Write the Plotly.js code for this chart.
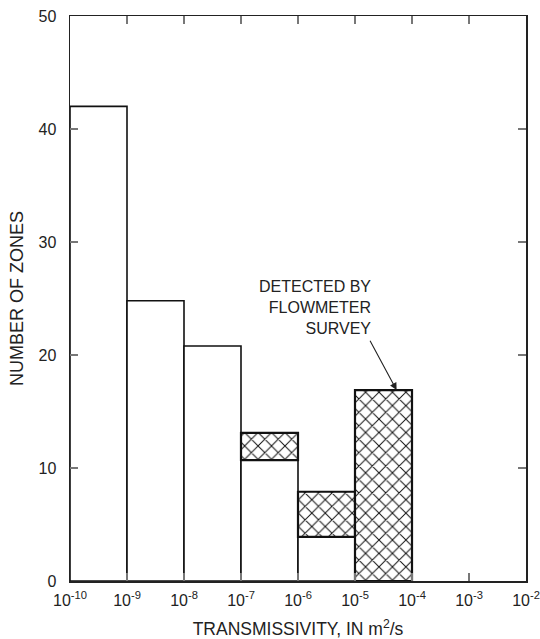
<!DOCTYPE html>
<html>
<head>
<meta charset="utf-8">
<script src="https://cdn.plot.ly/plotly-3.0.1.min.js"></script>
<style>html,body{margin:0;padding:0;background:#fff;}#chart{width:540px;height:639px;}</style>
</head>
<body>
<div id="chart"></div>
<script>
// Bin lower edges as powers of ten (transmissivity, m2/s)
const binLowExp = [-10, -9, -8, -7, -6, -5];
// Zones not detected by flowmeter (white part of bars)
const plainCounts = [42, 24.8, 20.8, 10.7, 3.9, 0];
// Zones detected by flowmeter survey (crosshatched part, stacked on top)
const flowmeterCounts = [0, 0, 0, 2.4, 4.0, 16.9];
const tickExps = [-10, -9, -8, -7, -6, -5, -4, -3, -2];
const tickLabels = tickExps.map(e => '10<sup>' + e + '</sup>');
const yTicks = [0, 10, 20, 30, 40, 50];

const centers = binLowExp.map(e => e + 0.5);
const FONT = 'Liberation Sans, Arial, Helvetica, sans-serif';

const plainIdx = plainCounts.map((v, i) => i).filter(i => plainCounts[i] > 0);
const hatchIdx = flowmeterCounts.map((v, i) => i).filter(i => flowmeterCounts[i] > 0);

const traces = [
  {
    type: 'bar',
    x: plainIdx.map(i => centers[i]),
    y: plainIdx.map(i => plainCounts[i]),
    base: plainIdx.map(() => 0),
    width: plainIdx.map(() => 1),
    marker: {color: '#ffffff', line: {color: '#111111', width: 1.6}},
    hoverinfo: 'skip'
  },
  {
    type: 'bar',
    x: hatchIdx.map(i => centers[i]),
    y: hatchIdx.map(i => flowmeterCounts[i]),
    base: hatchIdx.map(i => plainCounts[i]),
    width: hatchIdx.map(() => 1),
    marker: {
      color: '#ffffff',
      line: {color: '#111111', width: 2.2},
      pattern: {shape: 'x', fgcolor: '#111111', bgcolor: '#ffffff', size: 9.5, solidity: 0.2, fillmode: 'replace'}
    },
    hoverinfo: 'skip'
  }
];

const layout = {
  width: 540, height: 639,
  margin: {l: 70, r: 14, t: 16, b: 58},
  paper_bgcolor: '#ffffff', plot_bgcolor: '#ffffff',
  showlegend: false,
  barmode: 'overlay',
  font: {family: FONT, color: '#222222', size: 16},
  xaxis: {
    type: 'linear', range: [-10, -2],
    tickvals: tickExps, ticktext: tickLabels,
    ticks: 'inside', ticklen: 8, tickcolor: '#777777', tickwidth: 1.2,
    ticklabelstandoff: 4,
    showgrid: false, zeroline: false,
    showline: true, linecolor: '#222222', linewidth: 1.5, mirror: 'allticks',
    tickfont: {family: FONT, size: 16, color: '#222222'},
    title: {text: 'TRANSMISSIVITY, IN m<sup>2</sup>/s', font: {family: FONT, size: 17.5, color: '#222222'}, standoff: 16}
  },
  yaxis: {
    range: [0, 50], tickvals: yTicks,
    ticks: 'inside', ticklen: 8, tickcolor: '#777777', tickwidth: 1.2,
    ticklabelstandoff: 9,
    showgrid: false, zeroline: false,
    showline: true, linecolor: '#222222', linewidth: 1.5, mirror: 'allticks',
    tickfont: {family: FONT, size: 16, color: '#222222'},
    title: {text: 'NUMBER OF ZONES', font: {family: FONT, size: 18, color: '#222222'}, standoff: 10}
  },
  annotations: [
    {
      x: -4.68, y: 24.2, xref: 'x', yref: 'y',
      text: 'DETECTED BY<br>FLOWMETER<br>SURVEY',
      showarrow: false, xanchor: 'right', yanchor: 'middle', align: 'right',
      font: {family: FONT, size: 16, color: '#222222'}
    },
    {
      x: -4.27, y: 16.9, xref: 'x', yref: 'y',
      ax: -4.75, ay: 21.4, axref: 'x', ayref: 'y',
      text: '', showarrow: true, arrowhead: 2, arrowsize: 1.3, arrowwidth: 1.1, arrowcolor: '#222222', standoff: 0
    }
  ]
};

Plotly.newPlot('chart', traces, layout, {displayModeBar: false, staticPlot: true});
</script>
</body>
</html>
